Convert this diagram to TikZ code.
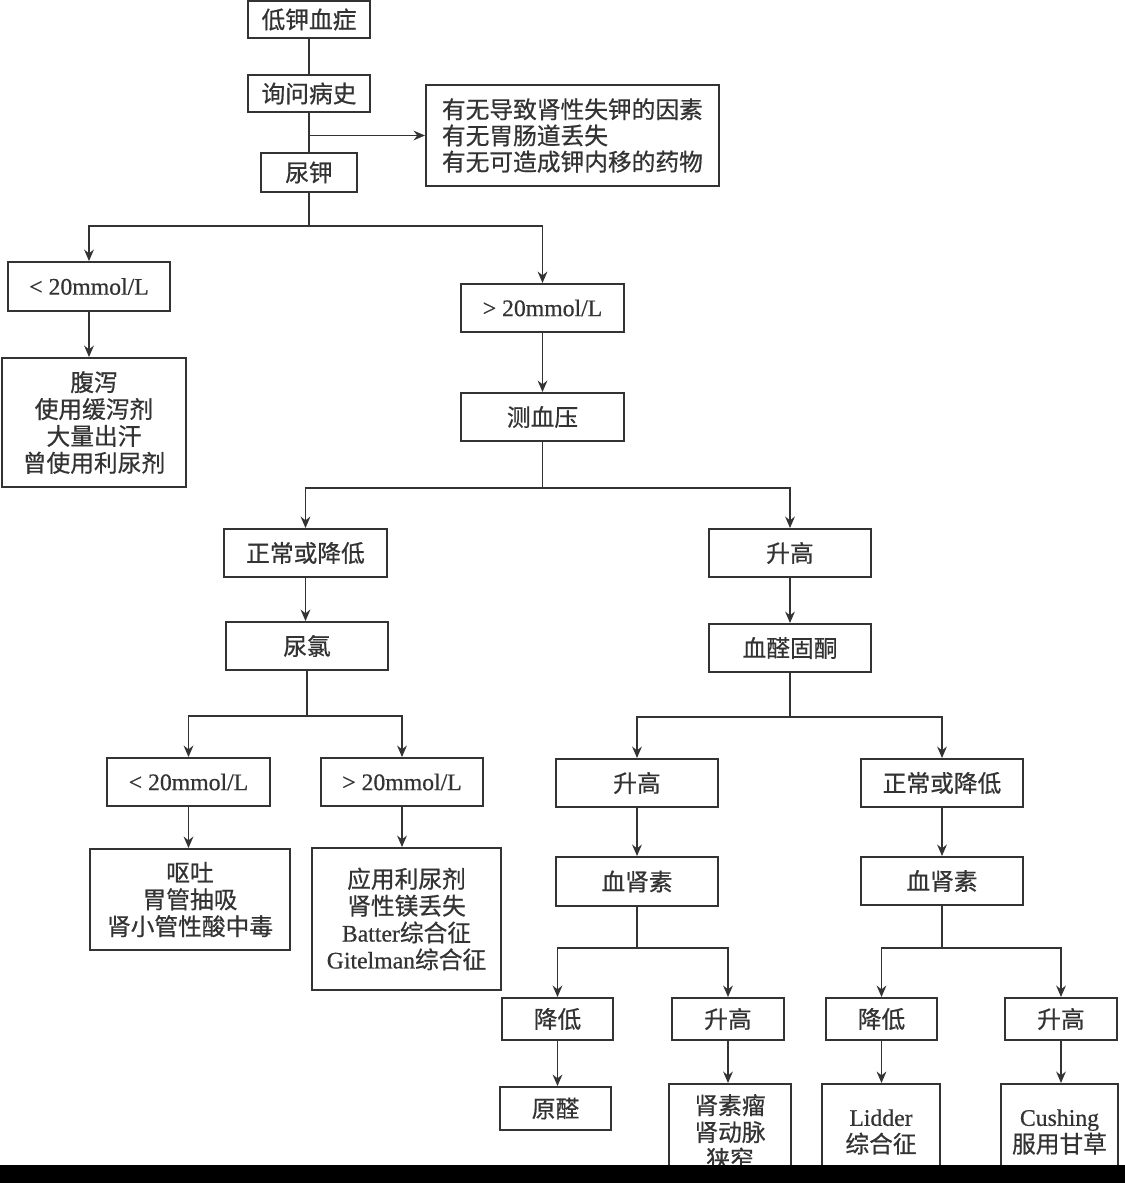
\documentclass[tikz,border=0pt]{standalone}
\usepackage{fontspec}
\setmainfont[FakeBold=0.6]{Liberation Serif}
\newfontfamily\cjk[FakeBold=0.6]{Noto Sans CJK SC}
\usetikzlibrary{arrows.meta}
\definecolor{ink}{HTML}{333333}
\newcommand\lat[1]{{\rmfamily #1}}
\newcommand\bx[6]{\node[box, minimum width={(#4-#2)*0.02cm}, minimum height={(#5-#3)*0.02cm}] (#1) at ({(#2+#4)/2},{(#3+#5)/2}) {#6};}
\tikzset{
  box/.style={draw=ink, line width=1.1pt, fill=white, inner sep=0pt, align=center,
    font=\cjk\fontsize{13.5}{15.3}\selectfont, text=ink},
  ln/.style={draw=ink, line width=1.1pt},
  arr/.style={draw=ink, line width=1.1pt, -{Stealth[length=6.5pt,width=5.5pt]}}
}
\begin{document}
\begin{tikzpicture}[x=0.02cm,y=-0.02cm]
\useasboundingbox (0,0) rectangle (1125,1183);
\fill[white] (0,0) rectangle (1125,1183);
\bx{hk}{248}{1}{370}{38}{低钾血症}
\bx{hist}{248}{75}{370}{112}{询问病史}
\bx{uk}{261}{153}{357}{192}{尿钾}
\node[box, anchor=west, align=left, inner xsep=0.32cm, minimum height=2.02cm, font=\cjk\fontsize{13.5}{14.9}\selectfont] (side) at (425,135.5)
  {有无导致肾性失钾的因素\\有无胃肠道丢失\\有无可造成钾内移的药物};
\bx{ukl}{8}{262}{170}{311}{\lat{< 20mmol/L}}
\bx{gi}{2}{358}{186}{487}{腹泻\\使用缓泻剂\\大量出汗\\曾使用利尿剂}
\bx{ukh}{461}{284}{624}{332}{\lat{> 20mmol/L}}
\bx{bp}{461}{393}{624}{441}{测血压}
\bx{bpn}{224}{529}{387}{577}{正常或降低}
\bx{bph}{709}{529}{871}{577}{升高}
\bx{ucl}{226}{622}{388}{670}{尿氯}
\bx{ald}{709}{624}{871}{672}{血醛固酮}
\bx{ucll}{107}{758}{270}{806}{\lat{< 20mmol/L}}
\bx{uclh}{321}{758}{483}{806}{\lat{> 20mmol/L}}
\bx{vom}{90}{849}{290}{950}{呕吐\\胃管抽吸\\肾小管性酸中毒}
\bx{diu}{312}{848}{501}{990}{应用利尿剂\\肾性镁丢失\\\lat{Batter}综合征\\\lat{Gitelman}综合征}
\bx{aldh}{556}{759}{718}{807}{升高}
\bx{aldn}{861}{759}{1023}{807}{正常或降低}
\bx{reA}{556}{857}{718}{906}{血肾素}
\bx{reB}{861}{857}{1023}{905}{血肾素}
\bx{reAl}{502}{998}{613}{1040}{降低}
\bx{reAh}{672}{998}{784}{1040}{升高}
\bx{reBl}{826}{998}{937}{1040}{降低}
\bx{reBh}{1005}{998}{1117}{1040}{升高}
\bx{prim}{500}{1087}{611}{1130}{原醛}
\bx{ren}{669}{1084}{791}{1180}{肾素瘤\\肾动脉\\狭窄}
\bx{lid}{822}{1084}{940}{1180}{\lat{Lidder}\\综合征}
\bx{cush}{1001}{1084}{1118}{1180}{\lat{Cushing}\\服用甘草}
% connectors
\draw[ln] (hk.south) -- (hist.north);
\draw[ln] (hist.south) -- (uk.north);
\draw[arr] (hist.south |- side.west) -- (side.west);
\draw[ln] (uk.south) -- ++(0,33) coordinate (j1);
\draw[arr] (j1) -| (ukl.north);
\draw[arr] (j1) -| (ukh.north);
\draw[arr] (ukl.south) -- (ukl.south |- gi.north);
\draw[arr] (ukh.south) -- (bp.north);
\draw[ln] (bp.south) -- ++(0,46) coordinate (j2);
\draw[arr] (j2) -| (bpn.north);
\draw[arr] (j2) -| (bph.north);
\draw[arr] (bpn.south) -- (bpn.south |- ucl.north);
\draw[arr] (bph.south) -- (ald.north);
\draw[ln] (ucl.south) -- ++(0,45) coordinate (j3);
\draw[arr] (j3) -| (ucll.north);
\draw[arr] (j3) -| (uclh.north);
\draw[arr] (ucll.south) -- (ucll.south |- vom.north);
\draw[arr] (uclh.south) -- (uclh.south |- diu.north);
\draw[ln] (ald.south) -- ++(0,44) coordinate (j4);
\draw[arr] (j4) -| (aldh.north);
\draw[arr] (j4) -| (aldn.north);
\draw[arr] (aldh.south) -- (reA.north);
\draw[arr] (aldn.south) -- (reB.north);
\draw[ln] (reA.south) -- ++(0,41) coordinate (j5);
\draw[arr] (j5) -| (reAl.north);
\draw[arr] (j5) -| (reAh.north);
\draw[ln] (reB.south) -- ++(0,42) coordinate (j6);
\draw[arr] (j6) -| (reBl.north);
\draw[arr] (j6) -| (reBh.north);
\draw[arr] (reAl.south) -- (reAl.south |- prim.north);
\draw[arr] (reAh.south) -- (reAh.south |- ren.north);
\draw[arr] (reBl.south) -- (reBl.south |- lid.north);
\draw[arr] (reBh.south) -- (reBh.south |- cush.north);
\fill[black] (0,1165) rectangle (1125,1183);
\end{tikzpicture}
\end{document}
